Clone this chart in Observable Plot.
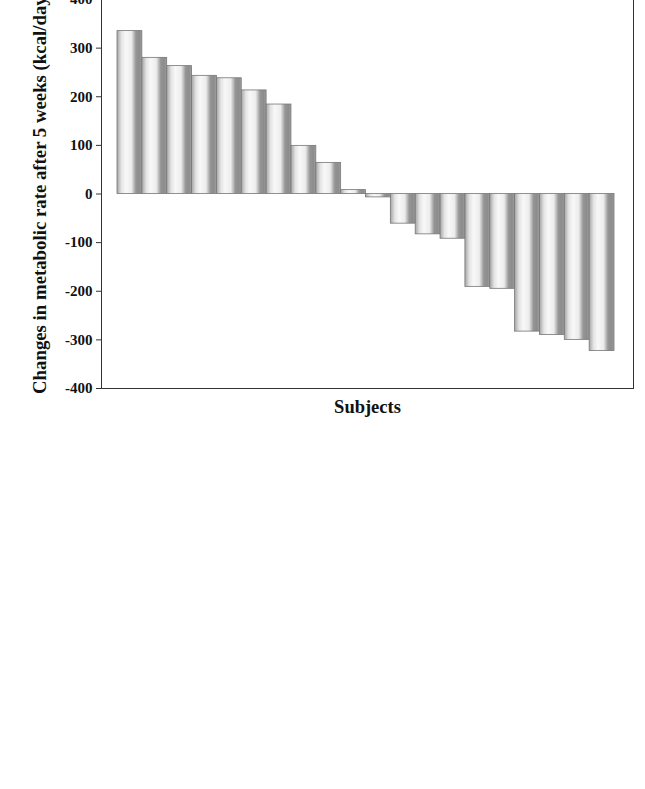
<!DOCTYPE html>
<html>
<head>
<meta charset="utf-8">
<script src="https://cdn.jsdelivr.net/npm/d3@7"></script>
<script src="https://cdn.jsdelivr.net/npm/@observablehq/plot@0.6"></script>
<style>
  html, body { margin: 0; padding: 0; background: #fff; }
  #chart { width: 645px; height: 789px; overflow: hidden; position: relative; }
  #chart svg { position: absolute; left: 0; top: -21px; }
</style>
</head>
<body>
<div id="chart"></div>
<script>
const subjects = d3.range(1, 21);
const changes = [335, 280, 263, 243, 238, 213, 184, 99, 64, 8, -7, -61, -83, -92, -191, -195, -283, -290, -300, -323];
const yTicks = [-400, -300, -200, -100, 0, 100, 200, 300, 400];
const yLabel = "Changes in metabolic rate after 5 weeks (kcal/day)";
const xLabel = "Subjects";

const data = subjects.map((s, i) => ({s, v: changes[i]}));
const font = "'Liberation Serif', 'Times New Roman', Times, serif";

const chart = Plot.plot({
  width: 645,
  height: 450,
  marginTop: 20,
  marginBottom: 41,
  marginLeft: 101,
  marginRight: 12,
  style: {fontFamily: font, fontWeight: "bold", fontSize: "15px", color: "#111", background: "transparent"},
  x: {type: "band", domain: subjects, padding: 0, round: false, insetLeft: 16, insetRight: 19, axis: null},
  y: {domain: [-400, 400], axis: null},
  marks: [
    Plot.barY(data, {x: "s", y: "v", fill: "url(#barGrad)", stroke: "#777", strokeWidth: 0.8}),
    Plot.frame({stroke: "#333", strokeWidth: 1}),
    Plot.axisY({ticks: yTicks, tickSize: 5, tickPadding: 4, tickFormat: d => String(d), fontSize: 15, fontWeight: "bold", label: null, stroke: "#333"}),
    Plot.text([yLabel], {frameAnchor: "left", dx: -62, dy: -2, rotate: -90, textAnchor: "middle", lineAnchor: "middle", fontSize: 18.8, fontWeight: "bold", fill: "#111"}),
    Plot.text([xLabel], {frameAnchor: "bottom", dy: 19, textAnchor: "middle", lineAnchor: "middle", fontSize: 18.5, fontWeight: "bold", fill: "#111"})
  ]
});

d3.select(chart).insert("defs", ":first-child").html(`
  <linearGradient id="barGrad" x1="0" x2="1" y1="0" y2="0">
    <stop offset="0" stop-color="#a4a4a4"/>
    <stop offset="0.18" stop-color="#e4e4e4"/>
    <stop offset="0.35" stop-color="#f8f8f8"/>
    <stop offset="0.58" stop-color="#ececec"/>
    <stop offset="0.76" stop-color="#959595"/>
    <stop offset="0.9" stop-color="#8c8c8c"/>
    <stop offset="1" stop-color="#a0a0a0"/>
  </linearGradient>`);

document.getElementById("chart").appendChild(chart);
</script>
</body>
</html>
